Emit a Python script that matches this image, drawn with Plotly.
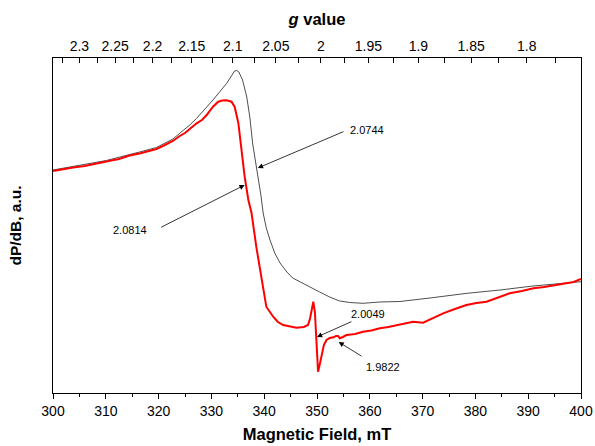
import plotly.graph_objects as go

# Magnetic field (mT) and signal (a.u.)
field_black = [300.0, 303.8, 310.1, 316.4, 319.6, 322.7, 325.9, 327.2, 330.3, 332.9, 333.7, 334.4, 334.8,
               335.2, 335.9, 336.7, 337.3, 337.8, 338.4, 338.9, 339.4, 339.8, 340.4, 341.1, 342.0, 343.0,
               344.3, 345.4, 346.8, 348.6, 350.5, 352.4, 354.3, 356.2, 358.7, 361.9, 365.7, 371.4, 378.4,
               384.7, 390.9, 400.0]
signal_black = [223, 226.3, 232.5, 241, 245.5, 254, 268, 274.7, 293, 309.7, 317, 322, 322.5,
                321, 313, 296, 275, 250, 230, 215, 197, 180, 165, 153, 140, 130,
                121, 115, 111, 106, 101, 96, 92, 90.5, 89.7, 91, 91.5, 95, 99.7,
                103, 107, 111.3]

field_red = [300.0, 301.5, 303.8, 306.0, 308.0, 310.1, 312.5, 314.5, 316.4, 318.0, 319.6, 321.0, 322.7,
             324.0, 325.0, 325.9, 327.2, 328.2, 329.1, 330.3, 331.3, 332.0, 332.9, 333.8, 334.4, 335.1,
             335.7, 336.3, 337.0, 337.6, 338.5, 339.5, 340.4, 341.7, 342.6, 343.6, 344.8, 346.1, 347.5,
             348.3, 348.7, 349.0, 349.3, 349.6, 349.9, 350.2, 350.5, 350.9, 351.3, 351.8, 352.4, 353.1,
             353.6, 354.0, 354.3, 354.9, 355.6, 357.2, 358.7, 360.3, 361.9, 363.5, 365.1, 366.6, 368.2,
             370.1, 372.0, 373.9, 376.1, 378.3, 380.2, 382.1, 384.7, 386.5, 388.8, 391.0, 393.0, 395.2,
             397.3, 398.6, 400.0]
signal_red = [222, 223.5, 225.5, 227, 229.5, 231.5, 234, 237.5, 239.5, 242, 244, 247.5, 252,
              257, 260, 264, 269.7, 273, 278, 286.3, 291.3, 292.5, 292.7, 291.3, 286.3, 270,
              243, 216.3, 193, 180, 146.3, 113, 86.3, 76.3, 71, 68, 66.5, 65.3, 66,
              68, 75, 83, 91.3, 81, 56, 21.3, 28, 40, 48, 53, 55, 55.7,
              57, 57, 54.7, 56, 58, 59, 61.3, 62.5, 64.7, 66, 68, 69.5, 71.3,
              70.3, 75, 79.7, 84, 88, 90, 91.3, 96.3, 99.7, 102, 104.7, 106, 108,
              109.7, 111, 114]

# top axis: g value labels (g = 701.5 / B[mT])
g_labels = [2.3, 2.25, 2.2, 2.15, 2.1, 2.05, 2.0, 1.95, 1.9, 1.85, 1.8]
g_minor = [2.325, 2.275, 2.225, 2.175, 2.125, 2.075, 2.025, 1.975, 1.925, 1.875, 1.825, 1.775]
G_CONST = 701.5

# annotations: label, tip (B, y), tail (B, y), text position (B, y)
ann_text = ["2.0744", "2.0814", "2.0049", "1.9822"]
ann_tip = [(338.8, 225), (336.3, 208), (350.0, 56), (354.1, 51)]
ann_tail = [(355.3, 262), (320.2, 165), (356.8, 72), (358.7, 36)]
ann_pos = [(359.4, 263), (314.6, 163), (359.6, 79), (362.5, 26)]

FONT = "Liberation Sans, Arial, sans-serif"

fig = go.Figure()
fig.add_trace(go.Scatter(x=field_black, y=signal_black, mode="lines",
                         line=dict(color="#3a3a3a", width=0.9), showlegend=False))
fig.add_trace(go.Scatter(x=field_red, y=signal_red, mode="lines",
                         line=dict(color="#ff0000", width=2), showlegend=False))
# invisible trace to activate top axis
fig.add_trace(go.Scatter(x=[300, 400], y=[None, None], xaxis="x2", mode="lines", showlegend=False))

for txt, tip, tail, pos in zip(ann_text, ann_tip, ann_tail, ann_pos):
    fig.add_annotation(x=tip[0], y=tip[1], ax=tail[0], ay=tail[1], axref="x", ayref="y",
                       xref="x", yref="y", text="", showarrow=True, arrowhead=2,
                       arrowsize=1.3, arrowwidth=0.8, arrowcolor="#000000")
    fig.add_annotation(x=pos[0], y=pos[1], xref="x", yref="y", text=txt, showarrow=False,
                       font=dict(family=FONT, size=11, color="#000000"))

fig.update_layout(
    width=595, height=446,
    margin=dict(l=53, r=14, t=58, b=53),
    paper_bgcolor="white", plot_bgcolor="white",
    font=dict(family=FONT, color="#000000"),
    xaxis=dict(range=[300, 400], showline=True, linecolor="black", linewidth=1.2, automargin=False,
               ticks="outside", ticklen=5, tickwidth=1.2, tickcolor="black",
               tickvals=[300, 310, 320, 330, 340, 350, 360, 370, 380, 390, 400],
               tickfont=dict(size=14, family=FONT),
               minor=dict(tickvals=[305, 315, 325, 335, 345, 355, 365, 375, 385, 395],
                          ticks="outside", ticklen=3, tickwidth=1.2, tickcolor="black"),
               showgrid=False, zeroline=False,
               title=dict(text="<b>Magnetic Field, mT</b>", font=dict(size=16.5, family=FONT),
                          standoff=10)),
    xaxis2=dict(range=[300, 400], overlaying="x", side="top", showline=True, linecolor="black",
                linewidth=1.2, ticks="inside", ticklen=5, tickwidth=1.2, tickcolor="black",
                automargin=False,
                tickvals=[G_CONST / g for g in g_labels],
                ticktext=[f"{g:g}" for g in g_labels],
                tickfont=dict(size=14, family=FONT),
                minor=dict(tickvals=[G_CONST / g for g in g_minor], ticks="inside",
                           ticklen=5, tickwidth=1.2, tickcolor="black"),
                showgrid=False, zeroline=False,
                title=dict(text="<b><i>g</i> value</b>", font=dict(size=16.5, family=FONT),
                           standoff=8)),
    yaxis=dict(range=[0, 335], showline=True, mirror=True, linecolor="black", linewidth=1.2,
               showticklabels=False, ticks="", showgrid=False, zeroline=False, automargin=False,
               title=dict(text="<b>dP/dB, a.u.</b>", font=dict(size=15.5, family=FONT),
                          standoff=26)),
)

fig.write_html("out.html", config={"displayModeBar": False},
               post_script="document.body.style.margin='0';document.body.style.padding='0';")
